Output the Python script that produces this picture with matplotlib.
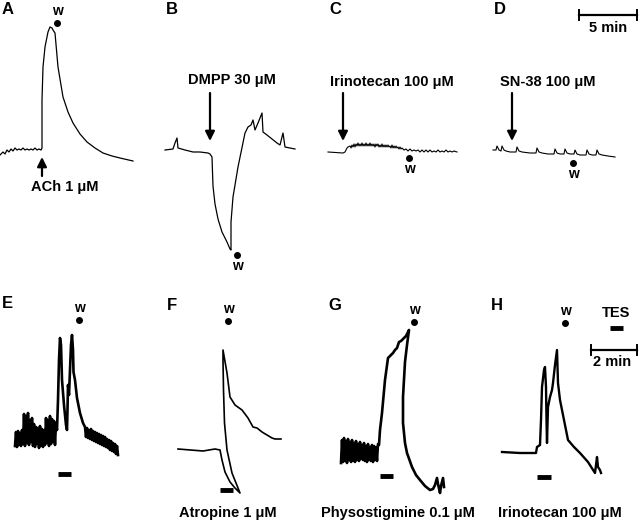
import numpy as np
import matplotlib
matplotlib.use('Agg')
import matplotlib.pyplot as plt

plt.rcParams['font.family'] = ['Liberation Sans', 'DejaVu Sans']
plt.rcParams['font.weight'] = 'bold'

# traces (x = time axis in px, y = tension in px, down = larger)
trace_a_x = [0, 3, 5, 7, 9, 11, 13, 15, 17, 19, 21, 23, 25, 27, 29, 31, 33, 35, 37, 39, 41, 42, 42, 43, 45, 48, 50, 52, 53, 55, 58, 63, 68, 73, 80, 87, 95, 103, 112, 120, 133]
trace_a_y = [155, 152, 154, 150, 152, 149, 151, 148, 150, 149, 150, 148, 150, 149, 150, 149, 150, 148, 150, 149, 150, 148, 100, 67, 47, 32, 27, 28, 30, 33, 67, 97, 112, 123, 134, 142, 148, 153, 156, 158, 161]

trace_b_x = [165, 173, 175, 177, 178, 185, 193, 200, 208, 210, 212, 212.5, 213, 215, 218, 222, 227, 230, 231, 231, 233, 238, 245, 248, 251, 253, 255, 258, 262, 263, 267, 272, 277, 280, 283, 285, 295]
trace_b_y = [150, 149, 143, 138, 148, 150, 152, 152, 153, 154, 157, 172, 186, 204, 219, 232, 242, 249, 250, 222, 197, 167, 133, 127, 125, 120, 130, 123, 113, 132, 135, 139, 143, 145, 133, 147, 149]

trace_c_x = [328, 343, 345, 347, 348, 350, 351, 352, 353, 354, 355, 356, 357, 358, 359, 360, 361, 362, 363, 364, 365, 366, 367, 368, 369, 370, 371, 372, 373, 374, 375, 376, 377, 378, 379, 380, 381, 382, 383, 384, 385, 386, 387, 388, 389, 390, 391, 392, 393, 394, 395, 396, 397, 398, 399, 400, 401, 402, 404, 406, 408, 410, 412, 414, 416, 418, 420, 422, 424, 426, 428, 430, 432, 434, 436, 438, 440, 442, 444, 446, 448, 450, 452, 454, 457]
trace_c_y = [152, 153, 152, 148, 147, 146, 148, 145, 147, 144, 147, 144, 146, 143, 146, 144, 146, 143, 146, 144, 146, 143, 146, 144, 146, 143, 146, 144, 146, 144, 147, 144, 146, 144, 147, 145, 147, 144, 147, 145, 147, 145, 147, 145, 147, 146, 148, 145, 148, 146, 148, 146, 148, 147, 149, 147, 149, 148, 150, 149, 151, 149, 151, 150, 151, 150, 152, 150, 152, 150, 152, 150, 152, 151, 152, 150, 152, 151, 152, 150, 152, 151, 152, 151, 152]

trace_d_x = [493, 496, 497, 499, 501, 502, 504, 506, 510, 516, 517, 519, 522, 530, 536, 537, 539, 542, 548, 554, 555, 557, 560, 564, 565, 567, 570, 574, 575, 577, 580, 586, 587, 589, 592, 596, 597, 599, 602, 608, 615]
trace_d_y = [150, 150, 146, 150, 151, 146, 150, 151, 152, 152, 147, 151, 152, 153, 153, 148, 152, 153, 154, 154, 149, 153, 154, 154, 149, 153, 154, 154, 150, 154, 155, 155, 150, 154, 155, 155, 150, 154, 155, 156, 157]

e_base_y = [446, 432, 447, 431, 445, 433, 446, 430,
            444, 414, 446, 416, 443, 413, 445, 420, 442, 418,
            446, 424, 447, 427, 444, 428, 448, 426, 446, 429, 447, 430,
            445, 418, 443, 420, 446, 416, 444, 419, 442, 421, 445, 423, 430]
e_peak_x = [58, 59, 60, 61, 62, 64, 66, 67, 67.5, 68, 69, 70, 71, 72, 73, 73.5, 75, 77, 80, 83, 85]
e_peak_y = [400, 360, 338, 345, 380, 405, 425, 430, 410, 385, 395, 370, 345, 335, 350, 372, 380, 398, 413, 423, 427]
e_tail_y = [437, 428, 438, 430, 439, 429, 440, 431, 441, 432, 442, 433, 443, 434, 444, 435,
            445, 436, 446, 437, 447, 439, 448, 440, 450, 441, 451, 443, 452, 444, 454, 446, 455]

trace_f_x = [178, 203, 215, 220, 222, 225, 230, 235, 240, 236, 232, 227, 224.5, 223.5, 223, 223, 227, 230, 235, 242, 248, 253, 257, 262, 267, 272, 275, 281]
trace_f_y = [449, 451, 449, 450, 460, 472, 482, 488, 493, 483, 473, 450, 423, 390, 360, 350, 373, 397, 405, 410, 418, 427, 428, 432, 435, 438, 439, 439]

g_base_y = [463, 440, 462, 438, 461, 441, 463, 439, 460, 442,
            462, 440, 461, 443, 462, 441, 460, 444, 461, 442,
            459, 445, 460, 443, 461, 446, 462, 444, 460, 447,
            461, 445, 462, 446, 460, 447, 461, 444]
g_rise_x = [379, 380, 382, 385, 388, 393, 395, 397, 399, 401, 404, 406, 409, 407, 405, 403, 403, 405, 407, 412, 416, 420, 425, 430, 433, 435, 437, 438, 440, 441, 443, 444]
g_rise_y = [445, 430, 413, 380, 358, 353, 350, 348, 342, 341, 338, 336, 330, 345, 362, 397, 423, 443, 453, 467, 475, 480, 486, 490, 489, 485, 478, 484, 493, 486, 478, 487]

trace_h_x = [502, 520, 536, 537, 540, 541, 542, 544, 545, 546, 546.5, 547, 548, 550, 552, 553, 555, 557, 558, 560, 562, 565, 568, 574, 580, 588, 595, 596, 597, 598, 600, 601]
trace_h_y = [452, 453, 453, 447, 445, 420, 387, 370, 367, 387, 420, 443, 407, 397, 390, 383, 365, 350, 383, 400, 410, 425, 440, 447, 453, 462, 473, 465, 457, 467, 470, 473]

trace_e_x = list(np.arange(15, 58)) + e_peak_x + list(np.arange(86, 119))
trace_e_y = e_base_y + e_peak_y + e_tail_y
trace_g_x = list(np.arange(341, 379)) + g_rise_x
trace_g_y = g_base_y + g_rise_y

fig = plt.figure(figsize=(6.4, 5.22), dpi=100)
ax = fig.add_axes([0, 0, 1, 1])
ax.set_xlim(0, 640)
ax.set_ylim(522, 0)
ax.axis('off')

k = 'black'
ax.plot(trace_a_x, trace_a_y, color=k, lw=0.9)
ax.plot(trace_b_x, trace_b_y, color=k, lw=0.9)
ax.plot(trace_c_x, trace_c_y, color=k, lw=0.8)
ax.plot(trace_d_x, trace_d_y, color=k, lw=0.8)
ax.plot(trace_e_x, trace_e_y, color=k, lw=1.9)
ax.plot(trace_f_x, trace_f_y, color=k, lw=1.2)
ax.plot(trace_g_x, trace_g_y, color=k, lw=1.9)
ax.plot(trace_h_x, trace_h_y, color=k, lw=1.7)

fs = 10.5
for lab, x, y in [('A', 8, 9), ('B', 172, 9), ('C', 335, 10), ('D', 500, 10),
                  ('E', 7, 303), ('F', 172, 305), ('G', 335, 305), ('H', 497, 305)]:
    ax.text(x, y, lab, fontsize=12, fontweight='bold', ha='center', va='center')

# wash marks
for x, y, below in [(57, 23, False), (237, 255, True), (409, 158, True), (573, 163, True),
                    (79, 320, False), (228, 321, False), (414, 322, False), (565, 323, False)]:
    ax.plot(x, y, 'o', color=k, ms=4)
    ty = y + 11 if below else y - 12
    ax.text(x, ty, 'w', fontsize=10, fontweight='bold', ha='center', va='center')

arrow = dict(arrowstyle='-|>', lw=1.6, color=k, mutation_scale=14, shrinkA=0, shrinkB=0)
ax.annotate('', xy=(42, 157), xytext=(42, 176), arrowprops=arrow)
ax.annotate('', xy=(210, 141), xytext=(210, 93), arrowprops=arrow)
ax.annotate('', xy=(343, 141), xytext=(343, 93), arrowprops=arrow)
ax.annotate('', xy=(512, 141), xytext=(512, 93), arrowprops=arrow)

ax.text(65, 187, 'ACh 1 \u03bcM', fontsize=fs, fontweight='bold', ha='center', va='center')
ax.text(232, 80, 'DMPP 30 \u03bcM', fontsize=fs, fontweight='bold', ha='center', va='center')
ax.text(392, 82, 'Irinotecan 100 \u03bcM', fontsize=fs, fontweight='bold', ha='center', va='center')
ax.text(548, 82, 'SN-38 100 \u03bcM', fontsize=fs, fontweight='bold', ha='center', va='center')
ax.text(228, 513, 'Atropine 1 \u03bcM', fontsize=fs, fontweight='bold', ha='center', va='center')
ax.text(398, 513, 'Physostigmine 0.1 \u03bcM', fontsize=fs, fontweight='bold', ha='center', va='center')
ax.text(560, 513, 'Irinotecan 100 \u03bcM', fontsize=fs, fontweight='bold', ha='center', va='center')

# stimulation bars
for x0, x1, y in [(58, 71, 474), (220, 233, 490), (380, 393, 476), (537, 551, 477), (610, 623, 328)]:
    ax.plot([x0, x1], [y, y], color=k, lw=3.5, solid_capstyle='butt')
ax.text(616, 313, 'TES', fontsize=fs, fontweight='bold', ha='center', va='center')

# scale bars
ax.plot([579, 637], [15, 15], color=k, lw=1.6)
ax.plot([579, 579], [10, 20], color=k, lw=1.4)
ax.plot([637, 637], [10, 20], color=k, lw=1.4)
ax.text(608, 28, '5 min', fontsize=fs, fontweight='bold', ha='center', va='center')
ax.plot([591, 637], [350, 350], color=k, lw=1.6)
ax.plot([591, 591], [345, 355], color=k, lw=1.4)
ax.plot([637, 637], [345, 355], color=k, lw=1.4)
ax.text(612, 362, '2 min', fontsize=fs, fontweight='bold', ha='center', va='center')

fig.savefig('out.png', dpi=100, facecolor='white')
